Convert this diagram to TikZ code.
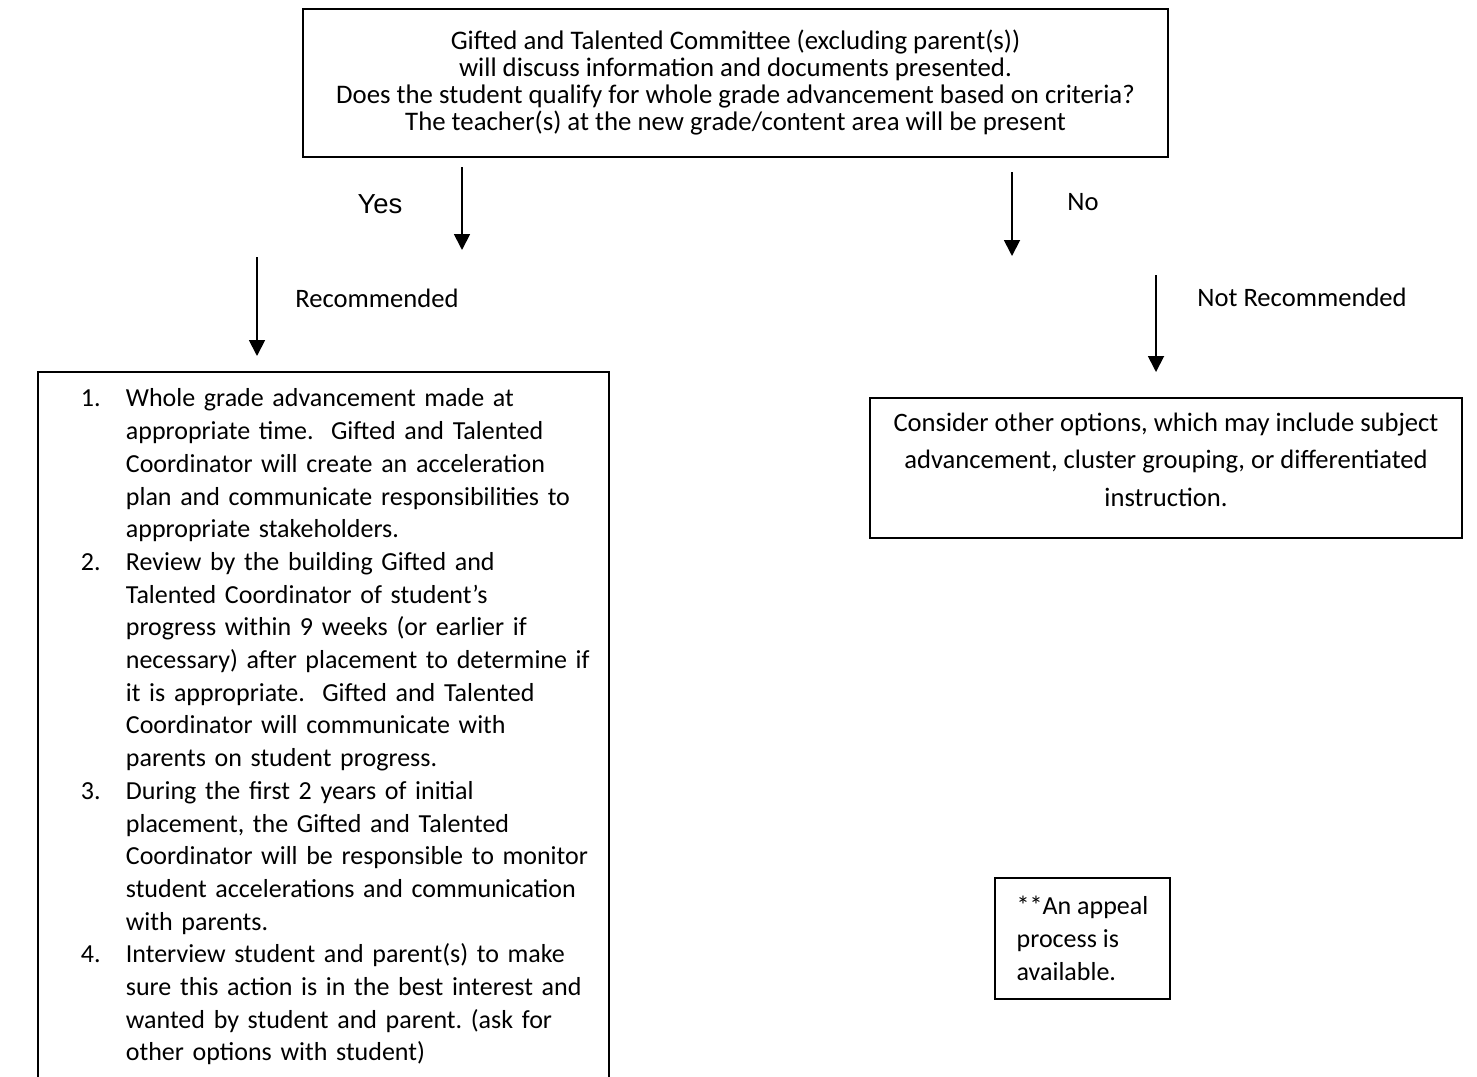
\documentclass[tikz,border=0pt]{standalone}
\usepackage{fontspec}
\setmainfont{Carlito}
\newfontfamily\arialfont{Liberation Sans}
\usetikzlibrary{arrows.meta}
\frenchspacing

\tikzset{
  box/.style={draw, line width=0.9pt, inner sep=0pt},
  flow/.style={-{Triangle[width=8pt,length=8pt]}, line width=0.9pt},
  lbl/.style={inner sep=0pt, font=\fontsize{13.3}{14}\selectfont},
}

\begin{document}
\begin{tikzpicture}[x=0.5pt, y=-0.5pt]
\clip (0,0) rectangle (1477,1076);

\node[box, minimum width=432.5pt, minimum height=74pt, align=center,
      font=\fontsize{13.4}{13.5}\selectfont] (committee) at (735.5,83)
  {Gifted and Talented Committee (excluding parent(s))\\
   will discuss information and documents presented.\\
   Does the student qualify for whole grade advancement based on criteria?\\
   The teacher(s) at the new grade/content area will be present};

% yes / no branches
\coordinate (yesA) at (462,167);
\coordinate (yesB) at (462,250);
\coordinate (noA) at (1012,172);
\coordinate (noB) at (1012,256);
\coordinate (recA) at (257,257);
\coordinate (recB) at (257,356);
\coordinate (notA) at (1156,275);
\coordinate (notB) at (1156,372);

\draw[flow] (yesA) -- (yesB);
\draw[flow] (noA) -- (noB);
\draw[flow] (recA) -- (recB);
\draw[flow] (notA) -- (notB);

\node[lbl, font=\arialfont\fontsize{13.75}{14}\selectfont] (yes) at (380,204) {Yes};
\node[lbl] (no) at (1083,202) {No};
\node[lbl] (rec) at (377,298) {Recommended};
\node[lbl] (notrec) at (1302,297) {Not Recommended};

\node[box, anchor=north west, minimum height=355.5pt, text width=266pt,
      inner xsep=9.75pt, align=left, font=\fontsize{13}{16.35}\selectfont] (plan) at (37,371)
  {\begin{tabular}{@{\hspace{11.75pt}}p{22.5pt}@{}l@{}}
   1. & Whole grade advancement made at\\
      & appropriate time.~ Gifted and Talented\\
      & Coordinator will create an acceleration\\
      & plan and communicate responsibilities to\\
      & appropriate stakeholders.\\
   2. & Review by the building Gifted and\\
      & Talented Coordinator of student’s\\
      & progress within 9 weeks (or earlier if\\
      & necessary) after placement to determine if\\
      & it is appropriate.~ Gifted and Talented\\
      & Coordinator will communicate with\\
      & parents on student progress.\\
   3. & During the first 2 years of initial\\
      & placement, the Gifted and Talented\\
      & Coordinator will be responsible to monitor\\
      & student accelerations and communication\\
      & with parents.\\
   4. & Interview student and parent(s) to make\\
      & sure this action is in the best interest and\\
      & wanted by student and parent. (ask for\\
      & other options with student)
   \end{tabular}};

\node[box, minimum width=296pt, minimum height=70pt] (other) at (1166,468) {};
\node[align=center, inner sep=0pt, font=\fontsize{13.3}{18.75}\selectfont] (othertext) at (1166,459.5)
  {Consider other options, which may include subject\\
   advancement, cluster grouping, or differentiated\\
   instruction.};

\node[box, inner xsep=10.5pt, minimum width=87.5pt, minimum height=60.5pt, align=left,
      font=\fontsize{13}{16.5}\selectfont] (appeal) at (1082.5,938.5)
  {**An appeal\\ process is\\ available.};

\end{tikzpicture}
\end{document}
